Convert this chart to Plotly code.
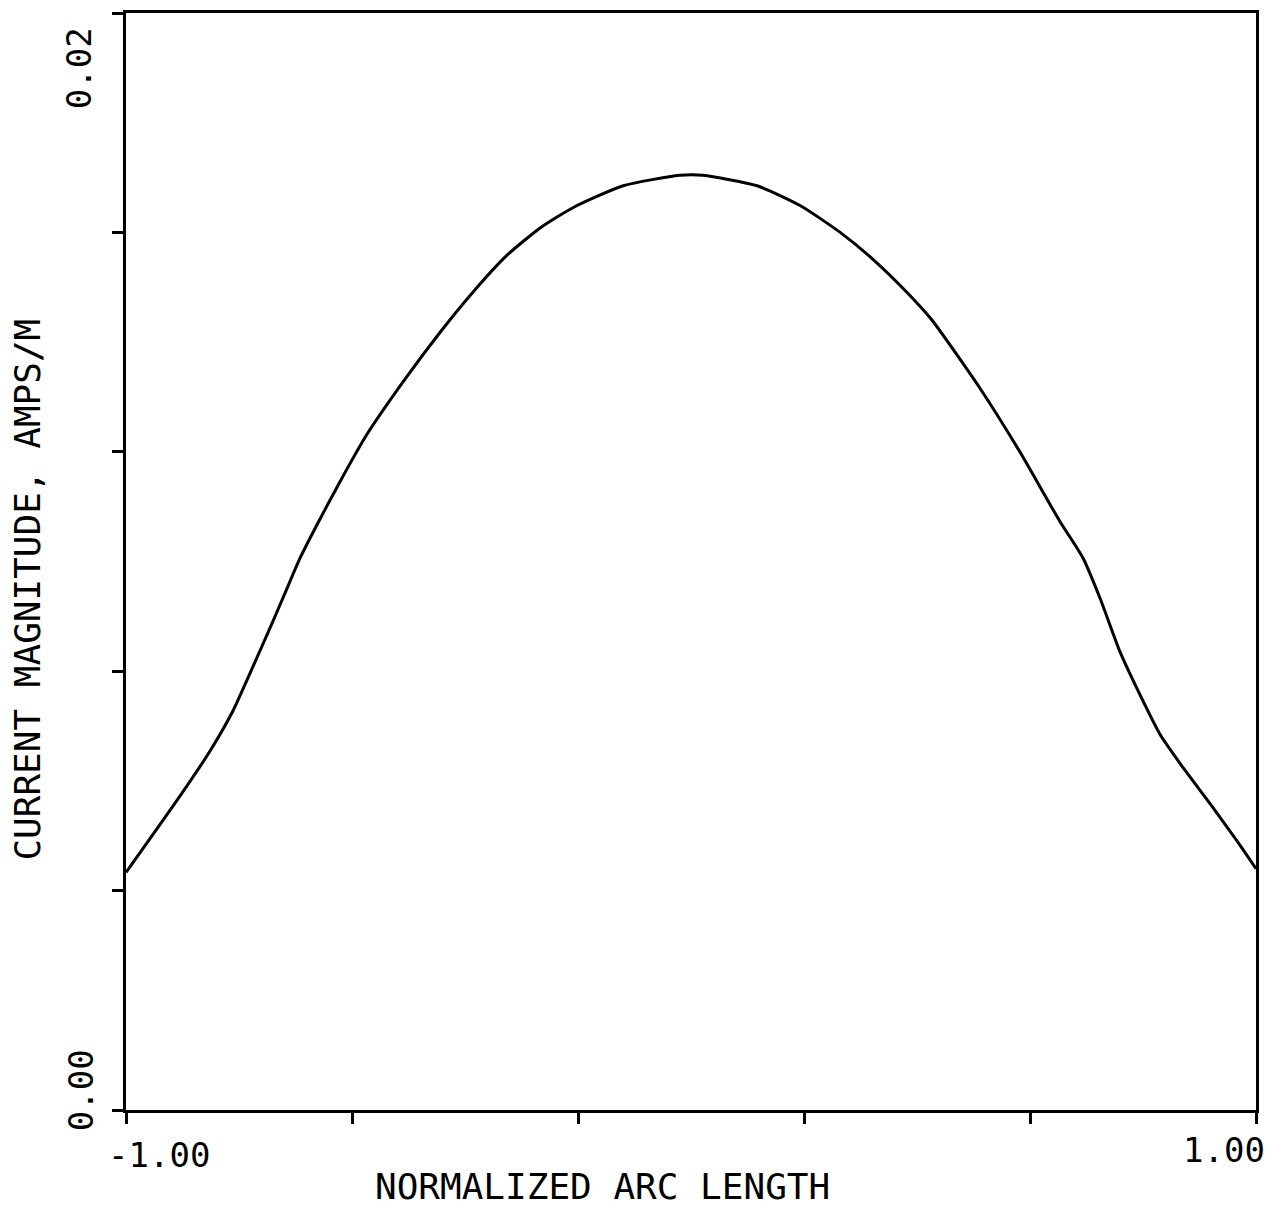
import plotly.graph_objects as go

# Data
arc_length = [-1.000, -0.904, -0.851, -0.811, -0.781, -0.740, -0.715, -0.692, -0.662,
              -0.621, -0.574, -0.510, -0.444, -0.386, -0.326, -0.267, -0.209, -0.120,
              -0.020, 0.021, 0.117, 0.193, 0.264, 0.322, 0.382, 0.425, 0.512, 0.582,
              0.653, 0.694, 0.724, 0.759, 0.789, 0.830, 0.871, 0.919, 0.966, 1.000]
current_mag = [0.00433, 0.00573, 0.00655, 0.00727, 0.00795, 0.00891, 0.00951, 0.01006,
               0.01067, 0.01146, 0.01231, 0.01327, 0.01418, 0.01491, 0.01558, 0.01608,
               0.01645, 0.01685, 0.01704, 0.01704, 0.01685, 0.01649, 0.01600, 0.01551,
               0.01491, 0.01442, 0.01315, 0.01200, 0.01073, 0.01006, 0.00933, 0.00836,
               0.00769, 0.00685, 0.00624, 0.00558, 0.00491, 0.00440]

x_ticks = [-1.0, -0.6, -0.2, 0.2, 0.6, 1.0]
y_ticks = [0.0, 0.004, 0.008, 0.012, 0.016, 0.02]
x_tick_labels = ["-1.00", "1.00"]
y_tick_labels = ["0.00", "0.02"]
x_title = "NORMALIZED ARC LENGTH"
y_title = "CURRENT MAGNITUDE, AMPS/M"

FONT = "DejaVu Sans Mono"

fig = go.Figure()
fig.add_trace(go.Scatter(
    x=arc_length, y=current_mag, mode="lines",
    line=dict(color="black", width=3, shape="spline", smoothing=0.6),
    hoverinfo="skip", showlegend=False,
))

axis_common = dict(
    showgrid=False, zeroline=False, showline=True, linecolor="black", linewidth=3,
    mirror=True, ticks="outside", ticklen=11, tickwidth=2.5, tickcolor="black",
    showticklabels=False,
)
fig.update_xaxes(range=[x_ticks[0], x_ticks[-1]], tickvals=x_ticks, **axis_common)
fig.update_yaxes(range=[y_ticks[0], y_ticks[-1]], tickvals=y_ticks, **axis_common)

tick_font = dict(family=FONT, size=34, color="black")
title_font = dict(family=FONT, size=36, color="black")
annotations = [
    dict(text=x_tick_labels[0], x=0.0296, y=-0.041, xanchor="center", yanchor="middle", font=tick_font),
    dict(text=x_tick_labels[1], x=0.972, y=-0.0364, xanchor="center", yanchor="middle", font=tick_font),
    dict(text=y_tick_labels[0], x=-0.0398, y=0.018, xanchor="center", yanchor="middle", textangle=-90, font=tick_font),
    dict(text=y_tick_labels[1], x=-0.0416, y=0.9496, xanchor="center", yanchor="middle", textangle=-90, font=tick_font),
    dict(text=x_title, x=0.422, y=-0.07, xanchor="center", yanchor="middle", font=title_font),
    dict(text=y_title, x=-0.0875, y=0.4745, xanchor="center", yanchor="middle", textangle=-90,
         font=title_font, borderpad=0),
]
for a in annotations:
    a.update(xref="paper", yref="paper", showarrow=False)

# page body has an 8px margin; sizes compensate so the plot area sits where the reference's does
fig.update_layout(
    width=1274, height=1198,
    margin=dict(l=118, r=26, t=2, b=96),
    paper_bgcolor="white", plot_bgcolor="white",
    annotations=annotations,
)

fig.write_html("out.html")
